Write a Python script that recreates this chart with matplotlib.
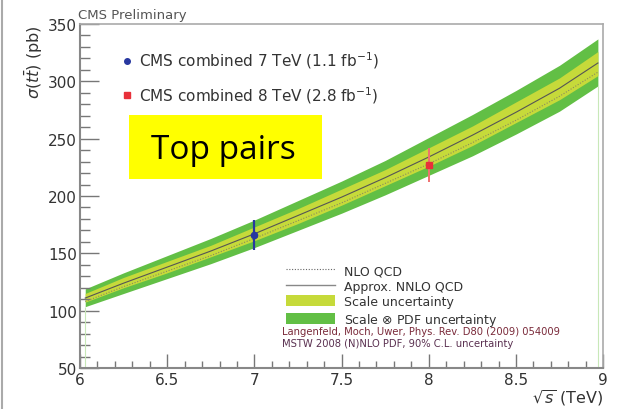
import matplotlib
matplotlib.use("Agg")
import matplotlib.pyplot as plt
from matplotlib.lines import Line2D
from matplotlib.patches import Patch, Rectangle

plt.rcParams['font.family'] = ['DejaVu Sans']
plt.rcParams['mathtext.fontset'] = 'dejavusans'

# theory band vs sqrt(s) [TeV], cross sections in pb
sqrt_s = [6.03, 6.25, 6.5, 6.75, 7.0, 7.25, 7.5, 7.75, 8.0, 8.25, 8.5, 8.75, 8.97]
nnlo = [111, 124, 138, 152, 167, 183, 199, 216, 234, 253, 273, 294, 316]
nlo = [108, 121, 134.5, 148, 163, 178.5, 194, 211, 228, 246.5, 266, 287, 308]
pdf_hi = [119, 133, 148, 163, 179, 196, 213, 231, 251, 271, 292, 314, 337]
pdf_lo = [103.5, 115, 128, 141, 155, 170, 185, 201, 218, 235, 254, 274, 296]
scale_hi = [115, 129, 143, 157, 173, 189, 206, 223, 242, 261, 282, 303, 326]
scale_lo = [107.5, 120, 133, 147, 161, 176, 192, 209, 226, 244, 264, 284, 305]

# CMS combined measurements
meas_energy = [7.0, 8.0]
meas_xsec = [165.8, 227.0]
meas_err = [13.3, 15.0]
meas_labels = ['CMS combined 7 TeV (1.1 fb$^{-1}$)',
               'CMS combined 8 TeV (2.8 fb$^{-1}$)']

green_out = '#62bf45'
green_in = '#c6da3a'

fig = plt.figure(figsize=(6.25, 4.1), dpi=100)
ax = fig.add_axes([0.128, 0.1, 0.837, 0.839])

ax.fill_between(sqrt_s, pdf_lo, pdf_hi, color=green_out, lw=0)
ax.fill_between(sqrt_s, scale_lo, scale_hi, color=green_in, lw=0)
ax.plot(sqrt_s, nlo, ls=(0, (1, 1.5)), color='#8a8a60', lw=0.8)
ax.plot(sqrt_s, nnlo, color='#555555', lw=0.8)
ax.vlines([sqrt_s[0], sqrt_s[-1]], 50, [pdf_lo[0], pdf_lo[-1]],
          color='#c8e8b8', lw=0.8)

ax.errorbar(meas_energy[:1], meas_xsec[:1], yerr=meas_err[:1], fmt='o',
            color='#2838a0', ms=4.5, elinewidth=1.6, capsize=0)
ax.errorbar(meas_energy[1:], meas_xsec[1:], yerr=meas_err[1:], fmt='s',
            color='#e8303a', ecolor='#f07070', ms=4.5, elinewidth=1.4, capsize=0)

ax.set_xlim(6, 9)
ax.set_ylim(50, 350)
ax.set_xticks([6, 6.5, 7, 7.5, 8, 8.5, 9])
ax.set_xticklabels(['6', '6.5', '7', '7.5', '8', '8.5', '9'])
ax.set_xticks([6 + 0.1 * i for i in range(31)], minor=True)
ax.set_yticks([50, 100, 150, 200, 250, 300, 350])
ax.set_yticks(list(range(50, 351, 10)), minor=True)
ax.tick_params(which='both', direction='in', color='#777777', labelcolor='#333333',
               labelsize=11, top=False, right=False, width=1)
ax.tick_params(axis='y', which='major', length=14, pad=2)
ax.tick_params(axis='y', which='minor', length=7)
ax.tick_params(axis='x', which='major', length=10, pad=3)
ax.tick_params(axis='x', which='minor', length=5)
for side in ['left', 'bottom']:
    ax.spines[side].set_color('#888888')
    ax.spines[side].set_linewidth(1.5)
for side in ['top', 'right']:
    ax.spines[side].set_color('#aaaaaa')
    ax.spines[side].set_linewidth(1.2)

ax.set_ylabel(r'$\sigma(t\bar{t})$ (pb)', loc='top', fontsize=11.5, color='#333333', labelpad=2)
fig.text(0.966, 0.028, r'$\sqrt{s}$ (TeV)', fontsize=11.5, color='#333333',
         ha='right', va='center')
ax.text(-0.003, 1.01, 'CMS Preliminary', transform=ax.transAxes, fontsize=9.5,
        color='#555555', va='bottom', ha='left')

meas_handles = [Line2D([], [], marker='o', ls='', color='#2838a0', ms=4),
                Line2D([], [], marker='s', ls='', color='#e8303a', ms=4)]
leg1 = ax.legend(meas_handles, meas_labels, loc='upper left', bbox_to_anchor=(0.052, 0.965),
                 frameon=False, fontsize=11, handlelength=0.8, handletextpad=0.4,
                 labelspacing=0.9, labelcolor='#333333')
ax.add_artist(leg1)

theory_handles = [Line2D([], [], ls=(0, (1, 1.5)), color='#666666', lw=0.8),
                  Line2D([], [], color='#888888', lw=1),
                  Patch(facecolor=green_in, edgecolor='none'),
                  Patch(facecolor=green_out, edgecolor='none')]
theory_labels = ['NLO QCD', 'Approx. NNLO QCD', 'Scale uncertainty',
                 r'Scale $\otimes$ PDF uncertainty']
ax.legend(theory_handles, theory_labels, loc='upper left', bbox_to_anchor=(0.373, 0.335),
          frameon=False, fontsize=9, handlelength=3.9, handleheight=0.95,
          handletextpad=0.7, labelspacing=0.2, labelcolor='#333333')
ax.text(0.386, 0.107, 'Langenfeld, Moch, Uwer, Phys. Rev. D80 (2009) 054009',
        transform=ax.transAxes, fontsize=7.2, color='#7a2a3a', va='center')
ax.text(0.386, 0.072, 'MSTW 2008 (N)NLO PDF, 90% C.L. uncertainty',
        transform=ax.transAxes, fontsize=7.2, color='#5a3050', va='center')

# label box
fig.patches.append(Rectangle((0.2064, 0.561), 0.309, 0.156, transform=fig.transFigure,
                             facecolor='#ffff00', edgecolor='none'))
fig.text(0.357, 0.634, 'Top pairs', fontsize=24, family=['Open Sans', 'DejaVu Sans'],
         ha='center', va='center', color='black')

# slide frame edge
fig.add_artist(Line2D([0.003, 0.003], [0, 1], transform=fig.transFigure,
                      color='#aaaaaa', lw=1.5))

fig.savefig('out.png', dpi=100)
